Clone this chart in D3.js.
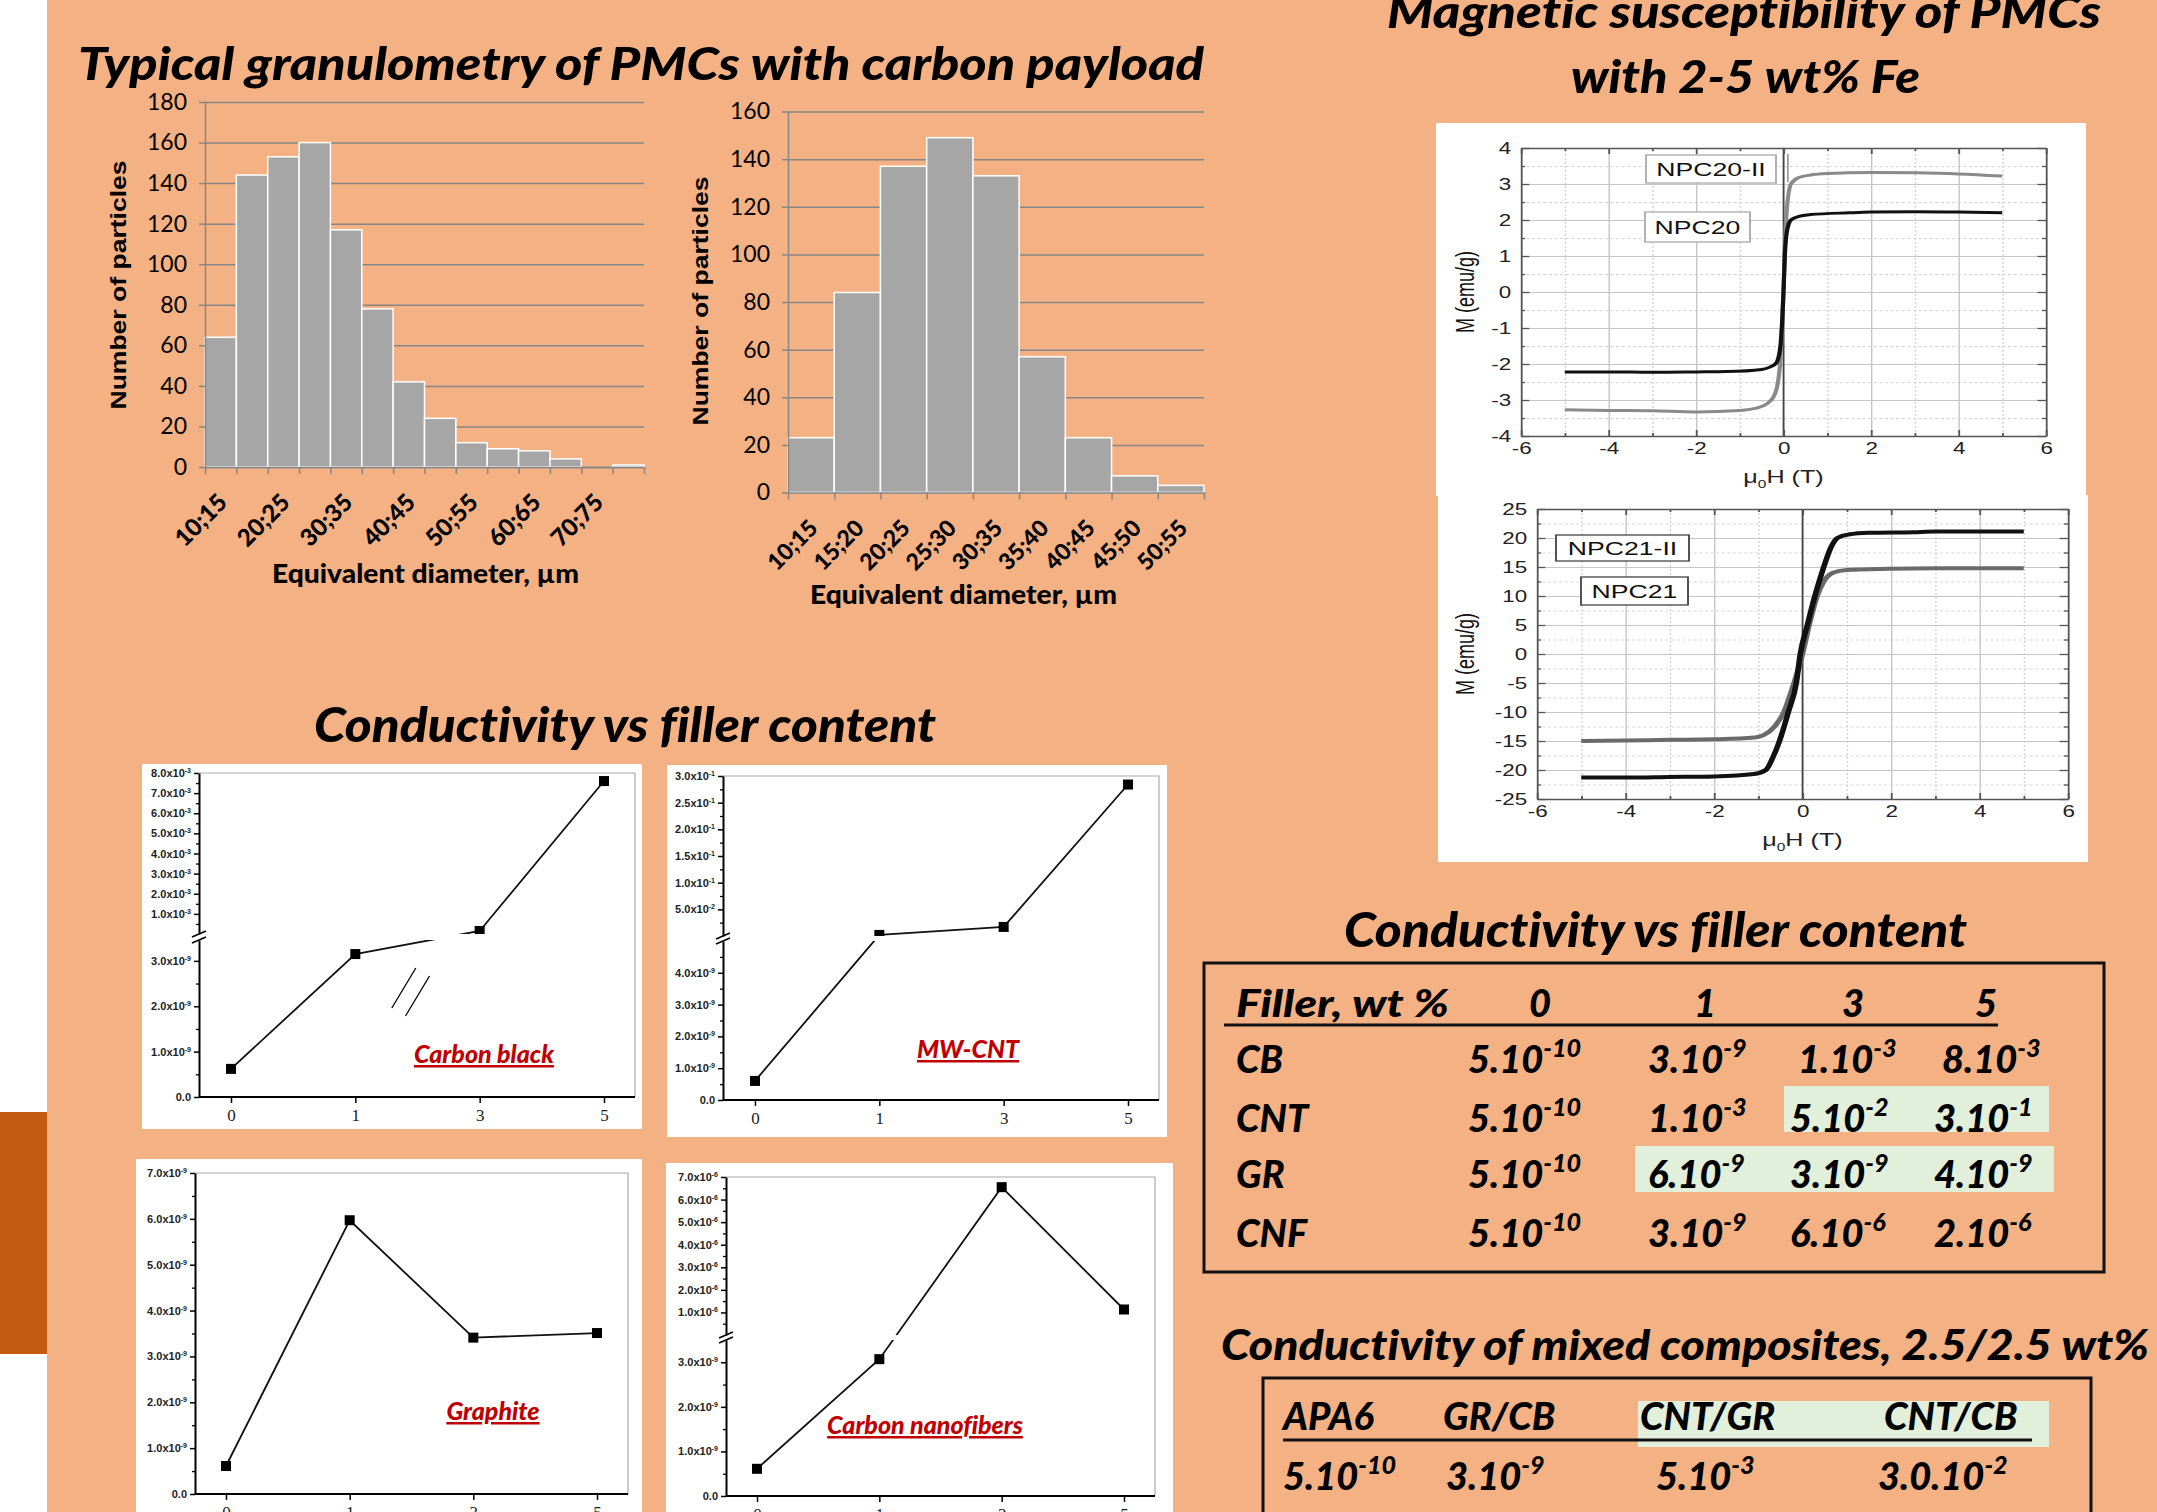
<!DOCTYPE html>
<html>
<head>
<meta charset="utf-8">
<script src="https://cdn.jsdelivr.net/npm/d3@7"></script>
<style>
  body { margin: 0; background: #fff; }
  svg { display: block; }
</style>
</head>
<body>
<div id="poster"></div>
<script>
// ---- granulometry histograms ----
const granuloCats1 = ["10;15","15;20","20;25","25;30","30;35","35;40","40;45","45;50","50;55","55;60","60;65","65;70","70;75","75;80"];
const granuloCounts1 = [64, 144, 153, 160, 117, 78, 42, 24, 12, 9, 8, 4, 0, 1];
const granuloCats2 = ["10;15","15;20","20;25","25;30","30;35","35;40","40;45","45;50","50;55"];
const granuloCounts2 = [23, 84, 137, 149, 133, 57, 23, 7, 3];

// ---- magnetisation loops [mu0H (T), M (emu/g)] ----
const npc20II = [[-5,-3.27],[-4,-3.29],[-3,-3.3],[-2,-3.33],[-1,-3.29],[-0.6,-3.22],[-0.28,-3.0],[-0.15,-2.65],[-0.08,-2.0],[-0.03,-0.9],[0,0],[0.03,1.1],[0.07,2.2],[0.17,3.0],[0.35,3.18],[0.62,3.25],[1,3.29],[2,3.32],[3,3.31],[4,3.28],[5,3.22]];
const npc20IISpike = [[0.1,3.05],[0.1,3.83]];
const npc20 = [[-5,-2.22],[-4,-2.22],[-3,-2.23],[-2,-2.22],[-1.3,-2.21],[-0.5,-2.15],[-0.3,-2.08],[-0.17,-1.98],[-0.08,-1.6],[-0.03,-0.8],[0,0],[0.03,1.0],[0.08,1.7],[0.17,2.0],[0.35,2.1],[0.62,2.15],[1.5,2.2],[2,2.22],[3,2.23],[4,2.22],[5,2.2]];
const npc21II = [[-5,-21.3],[-4,-21.3],[-3,-21.2],[-2,-21.1],[-1.1,-20.7],[-0.83,-20],[-0.65,-17.5],[-0.52,-15],[-0.32,-10],[-0.14,-5],[-0.05,0],[0.11,5],[0.28,10],[0.48,15],[0.65,18.5],[0.79,20],[1.04,20.6],[1.5,20.9],[2.5,21],[3,21.1],[4,21.1],[5,21.1]];
const npc21 = [[-5,-15],[-4,-14.9],[-3,-14.8],[-2,-14.7],[-1.08,-14.4],[-0.88,-14],[-0.63,-12.5],[-0.42,-10],[-0.19,-5],[0,0],[0.15,5],[0.33,10],[0.48,12.5],[0.69,14],[1,14.5],[1.95,14.7],[3,14.8],[4,14.8],[5,14.8]];
const fieldTicks = [-6, -4, -2, 0, 2, 4, 6];
const m20Ticks = [-4, -3, -2, -1, 0, 1, 2, 3, 4];
const m21Ticks = [-25, -20, -15, -10, -5, 0, 5, 10, 15, 20, 25];

// ---- conductivity vs filler (S/m) ----
const fillerLevels = ["0", "1", "3", "5"];
const cbSigma  = [6.2e-10, 3.15e-9, 1.5e-4, 7.6e-3];
const cntSigma = [6.0e-10, 2.0e-3, 1.7e-2, 2.84e-1];
const grSigma  = [6.1e-10, 5.97e-9, 3.41e-9, 3.51e-9];
const cnfSigma = [6.1e-10, 3.07e-9, 6.55e-6, 1.13e-6];

// ---- tables ----
const tableHeader = ["0", "1", "3", "5"];
const tableRows = ["CB", "CNT", "GR", "CNF"];
const tableCells = [
  [["5.10","-10"], ["3.10","-9"], ["1.10","-3"], ["8.10","-3"]],
  [["5.10","-10"], ["1.10","-3"], ["5.10","-2"], ["3.10","-1"]],
  [["5.10","-10"], ["6.10","-9"], ["3.10","-9"], ["4.10","-9"]],
  [["5.10","-10"], ["3.10","-9"], ["6.10","-6"], ["2.10","-6"]]
];
const mixedNames = ["APA6", "GR/CB", "CNT/GR", "CNT/CB"];
const mixedCells = [["5.10","-10"], ["3.10","-9"], ["5.10","-3"], ["3.0.10","-2"]];

const W = 2157, H = 1512;
const LATO = "Lato, 'Open Sans', sans-serif";
const ARIAL = "'Liberation Sans', Arial, sans-serif";
const HEAVY = 900;

const svg = d3.select("#poster").append("svg")
  .attr("width", W).attr("height", H)
  .style("font-family", LATO)
  .style("font-variant-ligatures", "none");

svg.append("rect").attr("width", W).attr("height", H).attr("fill", "#fff");
svg.append("rect").attr("x", 47).attr("width", W - 47).attr("height", H).attr("fill", "#F4B183");
svg.append("rect").attr("y", 1112).attr("width", 47).attr("height", 242).attr("fill", "#C55A11");

function title(txt, x, y, len, size) {
  svg.append("text")
    .attr("x", x).attr("y", y)
    .attr("textLength", len).attr("lengthAdjust", "spacingAndGlyphs")
    .attr("font-size", size).attr("font-weight", HEAVY).attr("font-style", "italic")
    .text(txt);
}

title("Typical granulometry of PMCs with carbon payload", 78, 80, 1126, 45);
title("Magnetic susceptibility  of PMCs", 1387, 28, 714, 46);
title("with 2-5 wt% Fe", 1571, 93, 349, 46);
title("Conductivity vs filler content", 314, 742, 622, 47);
title("Conductivity vs filler content", 1344, 947, 623, 47);
title("Conductivity of mixed composites, 2.5/2.5 wt%", 1221, 1360, 928, 42);

// ---------------- histograms ----------------
function histogram(cats, counts, o) {
  const g = svg.append("g");
  const x = d3.scaleBand().domain(cats).range([o.x0, o.x1]).padding(0);
  const y = d3.scaleLinear().domain([0, o.yMax]).range([o.y0, o.y1]);
  const yTicks = d3.range(0, o.yMax + 1, 20);

  const grid = g.append("g").attr("transform", `translate(${o.x0},0)`)
    .call(d3.axisLeft(y).tickValues(yTicks).tickSize(-(o.x1 - o.x0)).tickFormat(""));
  grid.select(".domain").remove();
  grid.selectAll("line").attr("stroke", "#868686").attr("stroke-width", 1.5);

  g.selectAll("rect.bar").data(counts).join("rect")
    .attr("class", "bar")
    .attr("x", (d, i) => x(cats[i]))
    .attr("width", x.bandwidth())
    .attr("y", d => y(d))
    .attr("height", d => o.y0 - y(d))
    .attr("fill", "#A6A6A6")
    .attr("stroke", "#fff").attr("stroke-width", 1.5);

  const ya = g.append("g").attr("transform", `translate(${o.x0},0)`)
    .call(d3.axisLeft(y).tickValues(yTicks).tickSize(6).tickSizeOuter(0).tickPadding(12));
  ya.selectAll("line, path").attr("stroke", "#868686").attr("stroke-width", 1.5);
  ya.selectAll("text").attr("font-family", LATO).attr("font-size", 23).attr("fill", "#000");

  const xi = d3.scaleLinear().domain([0, cats.length]).range([o.x0, o.x1]);
  const xa = g.append("g").attr("transform", `translate(0,${o.y0})`)
    .call(d3.axisBottom(xi).tickValues(d3.range(cats.length + 1)).tickSize(7).tickSizeOuter(0).tickFormat(""));
  xa.selectAll("line, path").attr("stroke", "#868686").attr("stroke-width", 1.5);

  g.selectAll("text.xl").data(cats.filter((c, i) => i % o.every === 0)).join("text")
    .attr("class", "xl")
    .attr("transform", c => `translate(${x(c) + x.bandwidth() / 2 + 8},${o.y0 + 37}) rotate(-45)`)
    .attr("text-anchor", "end")
    .attr("font-weight", HEAVY).attr("font-size", o.labelSize)
    .text(c => c);

  g.append("text")
    .attr("transform", `translate(${o.ytX},${o.ytY}) rotate(-90)`)
    .attr("text-anchor", "middle").attr("dy", "0.35em")
    .attr("font-family", ARIAL).attr("font-weight", 700).attr("font-size", 22)
    .attr("textLength", 249).attr("lengthAdjust", "spacingAndGlyphs")
    .text("Number of particles");

  g.append("text")
    .attr("x", o.xtX - 154).attr("y", o.xtY)
    .attr("font-weight", HEAVY).attr("font-size", 26)
    .attr("textLength", 307).attr("lengthAdjust", "spacingAndGlyphs")
    .text("Equivalent diameter, µm");
}

histogram(granuloCats1, granuloCounts1, {
  x0: 205, x1: 644, y0: 467, y1: 102, yMax: 180, every: 2, labelSize: 24,
  ytX: 118, ytY: 285, xtX: 426, xtY: 583
});
histogram(granuloCats2, granuloCounts2, {
  x0: 788, x1: 1204, y0: 492.5, y1: 111.5, yMax: 160, every: 1, labelSize: 23,
  ytX: 700, ytY: 301, xtX: 964, xtY: 604
});

// ---------------- hysteresis loops ----------------
const SX = 1.4; // the source figures are stretched horizontally
const mids = t => d3.pairs(t).map(p => (p[0] + p[1]) / 2);

function hysteresis(curves, o) {
  const g = svg.append("g").attr("transform", `scale(${SX},1)`);
  g.append("rect")
    .attr("x", o.box[0] / SX).attr("y", o.box[1])
    .attr("width", (o.box[2] - o.box[0]) / SX).attr("height", o.box[3] - o.box[1])
    .attr("fill", "#fff");

  const x = d3.scaleLinear().domain([-6, 6]).range([o.x0 / SX, o.x1 / SX]);
  const y = d3.scaleLinear().domain([o.yTicks[0], o.yTicks[o.yTicks.length - 1]]).range([o.y0, o.y1]);
  const w = x.range()[1] - x.range()[0], h = o.y0 - o.y1;
  const xMinor = mids(fieldTicks), yMinor = mids(o.yTicks);

  function grid(axis, vals, dashed) {
    const s = g.append("g").call(axis.tickValues(vals).tickFormat(""));
    s.select(".domain").remove();
    s.selectAll("line").attr("stroke", dashed ? "#d4d4d4" : "#c6c6c6")
      .attr("stroke-width", 1).attr("stroke-dasharray", dashed ? "2,2" : null);
    return s;
  }
  grid(d3.axisBottom(x).tickSize(-h), xMinor, true).attr("transform", `translate(0,${o.y0})`);
  grid(d3.axisLeft(y).tickSize(-w), yMinor, true).attr("transform", `translate(${x(-6)},0)`);
  grid(d3.axisBottom(x).tickSize(-h), fieldTicks.slice(1, -1), false).attr("transform", `translate(0,${o.y0})`);
  grid(d3.axisLeft(y).tickSize(-w), o.yTicks.slice(1, -1), false).attr("transform", `translate(${x(-6)},0)`);

  g.append("line").attr("x1", x(0)).attr("x2", x(0)).attr("y1", o.y0).attr("y2", o.y1)
    .attr("stroke", "#444").attr("stroke-width", 1.2);

  const line = d3.line().x(d => x(d[0])).y(d => y(d[1])).curve(d3.curveMonotoneX);
  curves.forEach(c => {
    g.append("path").datum(c.data).attr("d", line)
      .attr("fill", "none").attr("stroke", c.color).attr("stroke-width", c.width)
      .attr("stroke-linejoin", "round");
  });
  if (o.spike) {
    g.append("path").datum(o.spike)
      .attr("d", d3.line().x(d => x(d[0])).y(d => y(d[1])))
      .attr("stroke", "#999").attr("stroke-width", 1.2);
  }

  function frame(axis, tr, vals, size, labels) {
    const s = g.append("g").attr("transform", tr)
      .call(axis.tickValues(vals).tickSizeInner(-size).tickSizeOuter(0).tickPadding(7)
        .tickFormat(labels ? (d => String(d)) : ""));
    s.selectAll("line, path").attr("stroke", "#555").attr("stroke-width", 1.3);
    s.selectAll("text").attr("font-family", ARIAL).attr("font-size", 16).attr("fill", "#222");
    return s;
  }
  frame(d3.axisBottom(x), `translate(0,${o.y0})`, fieldTicks, 6, true);
  frame(d3.axisBottom(x), `translate(0,${o.y0})`, xMinor, 3, false).select(".domain").remove();
  frame(d3.axisTop(x), `translate(0,${o.y1})`, fieldTicks, 6, false);
  frame(d3.axisTop(x), `translate(0,${o.y1})`, xMinor, 3, false).select(".domain").remove();
  frame(d3.axisLeft(y), `translate(${x(-6)},0)`, o.yTicks, 6, true);
  frame(d3.axisLeft(y), `translate(${x(-6)},0)`, yMinor, 3, false).select(".domain").remove();
  frame(d3.axisRight(y), `translate(${x(6)},0)`, o.yTicks, 6, false);
  frame(d3.axisRight(y), `translate(${x(6)},0)`, yMinor, 3, false).select(".domain").remove();

  const xt = g.append("text").attr("x", x(0)).attr("y", o.y0 + 47)
    .attr("text-anchor", "middle").attr("font-family", ARIAL).attr("font-size", 18).attr("fill", "#222");
  xt.append("tspan").text("μ");
  xt.append("tspan").attr("dy", 5).attr("font-size", 11).text("0");
  xt.append("tspan").attr("dy", -5).text("H (T)");

  g.append("text")
    .attr("transform", `translate(${1474 / SX},${(o.y0 + o.y1) / 2}) rotate(-90)`)
    .attr("text-anchor", "middle").attr("font-family", ARIAL).attr("font-size", 18).attr("fill", "#111")
    .text("M (emu/g)");

  o.tags.forEach(t => {
    g.append("rect")
      .attr("x", t.box[0] / SX).attr("y", t.box[1])
      .attr("width", (t.box[2] - t.box[0]) / SX).attr("height", t.box[3] - t.box[1])
      .attr("fill", "#fff").attr("stroke", o.tagStroke).attr("stroke-width", 1.3);
    g.append("text")
      .attr("x", (t.box[0] + t.box[2]) / 2 / SX).attr("y", (t.box[1] + t.box[3]) / 2)
      .attr("dy", "0.36em").attr("text-anchor", "middle")
      .attr("font-family", ARIAL).attr("font-size", 19).attr("fill", "#111")
      .text(t.text);
  });
}

hysteresis([
  { data: npc20II, color: "#8a8a8a", width: 3 },
  { data: npc20, color: "#111", width: 3 }
], {
  box: [1436, 123, 2086, 496], x0: 1521, x1: 2046, y0: 436, y1: 148,
  yTicks: m20Ticks, spike: npc20IISpike, tagStroke: "#aaa",
  tags: [
    { text: "NPC20-II", box: [1646, 155, 1776, 183] },
    { text: "NPC20", box: [1645, 212, 1750, 242] }
  ]
});
hysteresis([
  { data: npc21, color: "#6a6a6a", width: 4 },
  { data: npc21II, color: "#111", width: 4 }
], {
  box: [1438, 495, 2088, 862], x0: 1537, x1: 2068, y0: 799, y1: 509,
  yTicks: m21Ticks, tagStroke: "#444",
  tags: [
    { text: "NPC21-II", box: [1556, 535, 1689, 561] },
    { text: "NPC21", box: [1581, 577, 1688, 605] }
  ]
});

// ---------------- conductivity line charts ----------------
function sciLabel(sel, exp) {
  sel.each(function (d) {
    const t = d3.select(this).text(null);
    if (d === 0) { t.text("0.0"); return; }
    const e = d < Math.pow(10, exp) * 0.999 ? exp - 1 : exp;
    t.append("tspan").text((d / Math.pow(10, e)).toFixed(1) + "x10");
    t.append("tspan").attr("dy", -4).attr("font-size", 7).text(String(e));
  });
}

function conductivity(values, o) {
  const g = svg.append("g");
  g.append("rect").attr("x", o.box[0]).attr("y", o.box[1])
    .attr("width", o.box[2] - o.box[0]).attr("height", o.box[3] - o.box[1]).attr("fill", "#fff");

  const x = d3.scalePoint().domain(fillerLevels).range([o.px0, o.px1]);
  const lower = d3.scaleLinear().domain(o.low.domain).range([o.bottom, o.low.top]);
  const upper = o.up ? d3.scaleLinear().domain(o.up.domain).range([o.up.bottom, o.top]) : null;
  const yv = v => (upper && v > o.low.domain[1]) ? upper(v) : lower(v);

  g.append("path").attr("d", `M${o.left},${o.top}H${o.right}V${o.bottom}`)
    .attr("fill", "none").attr("stroke", "#aaa").attr("stroke-width", 1.2);

  g.append("path").datum(values)
    .attr("d", d3.line().x((d, i) => x(fillerLevels[i])).y(d => yv(d)))
    .attr("fill", "none").attr("stroke", "#111").attr("stroke-width", 1.8);
  g.selectAll("rect.pt").data(values).join("rect")
    .attr("class", "pt")
    .attr("x", (d, i) => x(fillerLevels[i]) - 5).attr("y", d => yv(d) - 5)
    .attr("width", 10).attr("height", 10).attr("fill", "#000");

  if (upper) {
    const bTop = o.up.bottom, bBot = o.low.top;
    g.append("rect").attr("x", o.left - 8).attr("y", bTop)
      .attr("width", o.right - o.left + 7).attr("height", bBot - bTop).attr("fill", "#fff");
    [bTop, bBot].forEach(yy => {
      g.append("line").attr("x1", o.left - 7).attr("y1", yy + 3).attr("x2", o.left + 7).attr("y2", yy - 3)
        .attr("stroke", "#000").attr("stroke-width", 1.5);
    });
  }

  function segment(scale, majors, minors, exp) {
    const a = g.append("g").attr("transform", `translate(${o.left},0)`)
      .call(d3.axisLeft(scale).tickValues(majors).tickSize(5).tickSizeOuter(0).tickPadding(3));
    a.selectAll("path").attr("stroke", "#000").attr("stroke-width", 2);
    a.selectAll("line").attr("stroke", "#000").attr("stroke-width", 1.5);
    a.selectAll("text").attr("font-family", ARIAL).attr("font-weight", 700).attr("font-size", 11).attr("fill", "#222")
      .call(sciLabel, exp);
    const m = g.append("g").attr("transform", `translate(${o.left},0)`)
      .call(d3.axisLeft(scale).tickValues(minors).tickSize(3).tickFormat(""));
    m.select(".domain").remove();
    m.selectAll("line").attr("stroke", "#000").attr("stroke-width", 1.3);
  }
  segment(lower, o.low.majors, o.low.minors, o.low.exp);
  if (upper) segment(upper, o.up.majors, o.up.minors, o.up.exp);

  g.append("line").attr("x1", o.left).attr("x2", o.right).attr("y1", o.bottom).attr("y2", o.bottom)
    .attr("stroke", "#000").attr("stroke-width", 2);
  const xa = g.append("g").attr("transform", `translate(0,${o.bottom})`)
    .call(d3.axisBottom(x).tickSize(6).tickSizeOuter(0).tickPadding(6));
  xa.select(".domain").remove();
  xa.selectAll("line").attr("stroke", "#000").attr("stroke-width", 1.5);
  xa.selectAll("text").attr("font-family", "'Liberation Serif', 'Times New Roman', serif")
    .attr("font-size", 17).attr("fill", "#222");

  g.append("text").attr("x", o.tag[1]).attr("y", o.tag[2]).attr("text-anchor", "middle")
    .attr("font-weight", HEAVY).attr("font-style", "italic").attr("font-size", 25)
    .attr("fill", "#C00000").attr("text-decoration", "underline")
    .text(o.tag[0]);
  if (o.slashes) {
    const xa1 = x("1"), xa3 = x("3");
    [0.39, 0.5].forEach((f, k) => {
      const cx = xa1 + f * (xa3 - xa1), cy = 988 + k * 8;
      g.append("line").attr("x1", cx - 12).attr("y1", cy + 20).attr("x2", cx + 12).attr("y2", cy - 20)
        .attr("stroke", "#000").attr("stroke-width", 1.3);
    });
  }
}

const step = (a, b, s) => d3.range(a, b + s / 2, s);

conductivity(cbSigma, {
  box: [142, 764, 642, 1129], left: 199, right: 635, top: 773, bottom: 1097, px0: 231, px1: 604,
  low: { domain: [0, 3.46e-9], top: 940, majors: step(0, 3e-9, 1e-9), minors: step(0.5e-9, 3e-9, 1e-9), exp: -9 },
  up: { domain: [0, 8e-3], bottom: 934, majors: step(1e-3, 8e-3, 1e-3), minors: step(0.5e-3, 7.5e-3, 1e-3), exp: -3 },
  tag: ["Carbon black", 484, 1063], slashes: true
});
conductivity(cntSigma, {
  box: [667, 765, 1167, 1137], left: 723, right: 1159, top: 776, bottom: 1100, px0: 755, px1: 1128,
  low: { domain: [0, 5e-9], top: 941, majors: step(0, 4e-9, 1e-9), minors: step(0.5e-9, 4.5e-9, 1e-9), exp: -9 },
  up: { domain: [0, 0.3], bottom: 936, majors: [0.05, 0.1, 0.15, 0.2, 0.25, 0.3], minors: step(0.025, 0.275, 0.05), exp: -1 },
  tag: ["MW-CNT", 968, 1058]
});
conductivity(grSigma, {
  box: [136, 1159, 642, 1530], left: 195, right: 628, top: 1173, bottom: 1494, px0: 226, px1: 597,
  low: { domain: [0, 7e-9], top: 1173, majors: step(0, 7e-9, 1e-9), minors: step(0.5e-9, 6.5e-9, 1e-9), exp: -9 },
  tag: ["Graphite", 493, 1420]
});
conductivity(cnfSigma, {
  box: [666, 1163, 1173, 1530], left: 726, right: 1155, top: 1177, bottom: 1496, px0: 757, px1: 1124,
  low: { domain: [0, 3.5e-9], top: 1340, majors: step(0, 3e-9, 1e-9), minors: step(0.5e-9, 3e-9, 1e-9), exp: -9 },
  up: { domain: [0, 7e-6], bottom: 1335, majors: step(1e-6, 7e-6, 1e-6), minors: step(0.5e-6, 6.5e-6, 1e-6), exp: -6 },
  tag: ["Carbon nanofibers", 925, 1434]
});

// ---------------- tables ----------------
function power(x, y, cell, size) {
  const t = svg.append("text").attr("x", x).attr("y", y)
    .attr("font-weight", HEAVY).attr("font-style", "italic").attr("font-size", size);
  t.append("tspan").text(cell[0]);
  t.append("tspan").attr("dy", -size * 0.42).attr("font-size", size * 0.66).text(cell[1]);
}

svg.append("rect").attr("x", 1784).attr("y", 1086).attr("width", 265).attr("height", 46).attr("fill", "#E2EFDA");
svg.append("rect").attr("x", 1635).attr("y", 1146).attr("width", 419).attr("height", 46).attr("fill", "#E2EFDA");
svg.append("rect").attr("x", 1204).attr("y", 963).attr("width", 900).attr("height", 309)
  .attr("fill", "none").attr("stroke", "#111").attr("stroke-width", 3);

svg.append("text").attr("x", 1236).attr("y", 1017)
  .attr("font-weight", HEAVY).attr("font-style", "italic").attr("font-size", 38)
  .attr("textLength", 213).attr("lengthAdjust", "spacingAndGlyphs").text("Filler, wt %");
const headX = [1540, 1705, 1853, 1986];
tableHeader.forEach((h, i) => {
  svg.append("text").attr("x", headX[i]).attr("y", 1017).attr("text-anchor", "middle")
    .attr("font-weight", HEAVY).attr("font-style", "italic").attr("font-size", 38).text(h);
});
svg.append("line").attr("x1", 1224).attr("x2", 1998).attr("y1", 1025).attr("y2", 1025)
  .attr("stroke", "#111").attr("stroke-width", 3);

const rowY = [1073, 1132, 1188, 1247];
const colX = [1468, 1648, 1790, 1934];
tableRows.forEach((r, i) => {
  svg.append("text").attr("x", 1236).attr("y", rowY[i])
    .attr("font-weight", HEAVY).attr("font-style", "italic").attr("font-size", 38).text(r);
  tableCells[i].forEach((c, j) => power(colX[j] + (i === 0 && j > 1 ? 8 : 0), rowY[i], c, 38));
});

svg.append("rect").attr("x", 1638).attr("y", 1401).attr("width", 411).attr("height", 46).attr("fill", "#E2EFDA");
svg.append("rect").attr("x", 1263).attr("y", 1378).attr("width", 828).attr("height", 160)
  .attr("fill", "none").attr("stroke", "#111").attr("stroke-width", 3);
const mixNameX = [1283, 1443, 1640, 1884];
const mixValX = [1283, 1446, 1656, 1878];
mixedNames.forEach((n, i) => {
  svg.append("text").attr("x", mixNameX[i]).attr("y", 1430)
    .attr("font-weight", HEAVY).attr("font-style", "italic").attr("font-size", 38).text(n);
  power(mixValX[i], 1490, mixedCells[i], 38);
});
svg.append("line").attr("x1", 1283).attr("x2", 2032).attr("y1", 1440).attr("y2", 1440)
  .attr("stroke", "#111").attr("stroke-width", 3);
</script>
</body>
</html>
